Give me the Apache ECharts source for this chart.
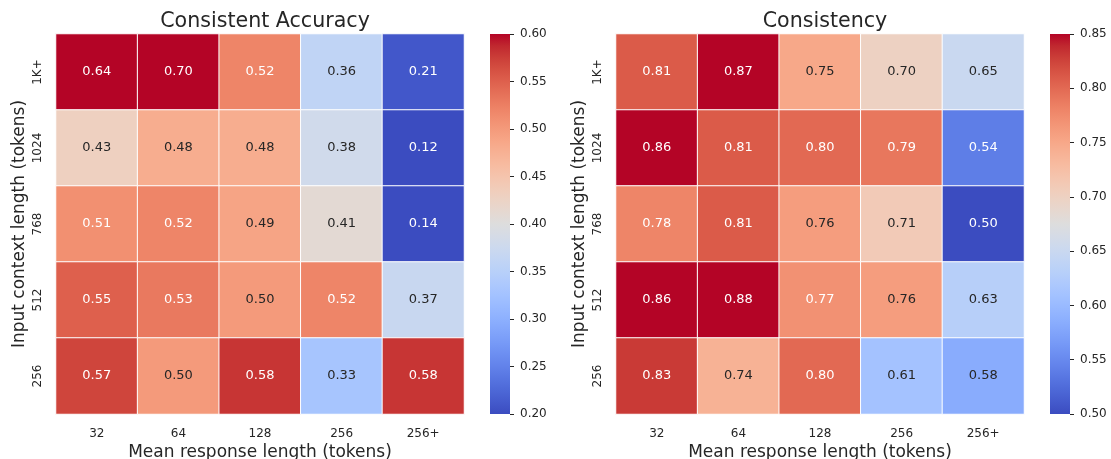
<!DOCTYPE html>
<html>
<head>
<meta charset="utf-8">
<script src="https://cdn.jsdelivr.net/npm/echarts@6/dist/echarts.min.js"></script>
<style>
html,body{margin:0;padding:0;background:#fff;}
#chart{width:1111px;height:459px;}
</style>
</head>
<body>
<div id="chart"></div>
<script>
// ---- data ----
const responseLengths = ['32', '64', '128', '256', '256+'];
const contextLengths = ['1K+', '1024', '768', '512', '256'];
const titleLeft = 'Consistent Accuracy';
const titleRight = 'Consistency';
// rows: 1K+, 1024, 768, 512, 256 ; cols: 32, 64, 128, 256, 256+
const accuracyValues = [
  [0.64, 0.70, 0.52, 0.36, 0.21],
  [0.43, 0.48, 0.48, 0.38, 0.12],
  [0.51, 0.52, 0.49, 0.41, 0.14],
  [0.55, 0.53, 0.50, 0.52, 0.37],
  [0.57, 0.50, 0.58, 0.33, 0.58]
];
const consistencyValues = [
  [0.81, 0.87, 0.75, 0.70, 0.65],
  [0.86, 0.81, 0.80, 0.79, 0.54],
  [0.78, 0.81, 0.76, 0.71, 0.50],
  [0.86, 0.88, 0.77, 0.76, 0.63],
  [0.83, 0.74, 0.80, 0.61, 0.584]
];
const accRange = [0.20, 0.60];
const conRange = [0.50, 0.85];

// ---- coolwarm colormap ----
const coolwarm = [
[59,76,192],[68,90,204],[77,104,215],[87,117,225],[98,130,234],[108,142,241],[119,154,247],[130,165,251],
[141,176,254],[152,185,255],[163,194,255],[174,201,253],[184,208,249],[194,213,244],[204,217,238],[213,219,230],
[221,221,221],[229,216,209],[236,211,197],[241,204,185],[245,196,173],[247,187,160],[247,177,148],[247,166,135],
[244,154,123],[241,141,111],[236,127,99],[229,112,88],[222,96,77],[213,80,66],[203,62,56],[192,40,47],[180,4,38]];
const cmapHex = coolwarm.map(c => '#' + c.map(v => v.toString(16).padStart(2, '0')).join(''));
function cmap(t) {
  t = Math.max(0, Math.min(1, t));
  const n = coolwarm.length - 1;
  const p = t * n, i = Math.min(Math.floor(p), n - 1), f = p - i;
  return coolwarm[i].map((v, k) => v + (coolwarm[i + 1][k] - v) * f);
}
function lum(rgb) {
  const l = rgb.map(v => { v /= 255; return v <= 0.03928 ? v / 12.92 : Math.pow((v + 0.055) / 1.055, 2.4); });
  return 0.2126 * l[0] + 0.7152 * l[1] + 0.0722 * l[2];
}
function buildData(vals, range) {
  const out = [];
  vals.forEach((row, r) => row.forEach((v, c) => {
    const rgb = cmap((v - range[0]) / (range[1] - range[0]));
    const col = 'rgb(' + rgb.map(Math.round).join(',') + ')';
    out.push({
      value: [c, r, v],
      itemStyle: { color: col },
      label: { color: lum(rgb) > 0.408 ? '#262626' : '#ffffff' }
    });
  }));
  return out;
}

const FONT = 'DejaVu Sans';
const TXT = '#262626';
const gridW = 408, gridH = 380, gridTop = 34;
const leftX = [56, 616];
const cbX = [490, 1050];
const cbW = 20;

function heatAxes(idx) {
  return {
    x: {
      type: 'category', gridIndex: idx, data: responseLengths,
      axisLine: { show: false }, axisTick: { show: false }, splitLine: { show: false },
      axisLabel: { fontFamily: FONT, fontSize: 12, color: TXT, margin: 14 },
      name: 'Mean response length (tokens)', nameLocation: 'middle', nameGap: 30, nameMoveOverlap: false,
      nameTextStyle: { fontFamily: FONT, fontSize: 17, color: TXT }
    },
    y: {
      type: 'category', gridIndex: idx, data: contextLengths, inverse: true,
      axisLine: { show: false }, axisTick: { show: false }, splitLine: { show: false },
      axisLabel: { fontFamily: FONT, fontSize: 12, color: TXT, rotate: 90, margin: 12 },
      name: 'Input context length (tokens)', nameLocation: 'middle', nameGap: 28, nameMoveOverlap: false,
      nameTextStyle: { fontFamily: FONT, fontSize: 17, color: TXT }
    }
  };
}
const a0 = heatAxes(0), a1 = heatAxes(1);

function cbAxes(idx, range) {
  return {
    x: { type: 'value', gridIndex: idx, show: false, min: 0, max: 1 },
    y: {
      type: 'value', gridIndex: idx, position: 'right', min: range[0], max: range[1], interval: 0.05,
      axisLine: { show: false, onZero: false }, splitLine: { show: false }, minorTick: { show: false },
      axisTick: { show: true, inside: false, length: 4, lineStyle: { color: TXT, width: 1 } },
      axisLabel: { fontFamily: FONT, fontSize: 12, color: TXT, margin: 10,
        formatter: v => v.toFixed(2) }
    }
  };
}
const c0 = cbAxes(2, accRange), c1 = cbAxes(3, conRange);

const labelCfg = { show: true, fontFamily: FONT, fontSize: 13, formatter: p => p.value[2].toFixed(2) };

const gradStops = cmapHex.map((c, i) => ({ offset: i / (cmapHex.length - 1), color: c }));
function colorbar(x) {
  return {
    type: 'rect', left: x, top: gridTop, z: -1,
    shape: { width: cbW, height: gridH },
    style: { fill: new echarts.graphic.LinearGradient(0, 1, 0, 0, gradStops) }
  };
}

const gridBase = { top: gridTop, height: gridH, outerBoundsMode: 'none', containLabel: false };
const option = {
  animation: false,
  backgroundColor: '#ffffff',
  title: [
    { text: titleLeft, left: leftX[0] + gridW / 2, top: 6, textAlign: 'center',
      textStyle: { fontFamily: FONT, fontSize: 20.6, fontWeight: 'normal', color: TXT } },
    { text: titleRight, left: leftX[1] + gridW / 2, top: 6, textAlign: 'center',
      textStyle: { fontFamily: FONT, fontSize: 20.6, fontWeight: 'normal', color: TXT } }
  ],
  grid: [
    Object.assign({ left: leftX[0], width: gridW }, gridBase),
    Object.assign({ left: leftX[1], width: gridW }, gridBase),
    Object.assign({ left: cbX[0], width: cbW }, gridBase),
    Object.assign({ left: cbX[1], width: cbW }, gridBase)
  ],
  xAxis: [a0.x, a1.x, c0.x, c1.x],
  yAxis: [a0.y, a1.y, c0.y, c1.y],
  graphic: [colorbar(cbX[0]), colorbar(cbX[1])],
  series: [
    { type: 'heatmap', xAxisIndex: 0, yAxisIndex: 0, data: buildData(accuracyValues, accRange),
      itemStyle: { borderColor: '#ffffff', borderWidth: 1 }, label: labelCfg, emphasis: { disabled: true } },
    { type: 'heatmap', xAxisIndex: 1, yAxisIndex: 1, data: buildData(consistencyValues, conRange),
      itemStyle: { borderColor: '#ffffff', borderWidth: 1 }, label: labelCfg, emphasis: { disabled: true } },
    { type: 'scatter', xAxisIndex: 2, yAxisIndex: 2, data: [] },
    { type: 'scatter', xAxisIndex: 3, yAxisIndex: 3, data: [] }
  ]
};
const chart = echarts.init(document.getElementById('chart'), null, { renderer: 'canvas' });
chart.setOption(option);
</script>
</body>
</html>
